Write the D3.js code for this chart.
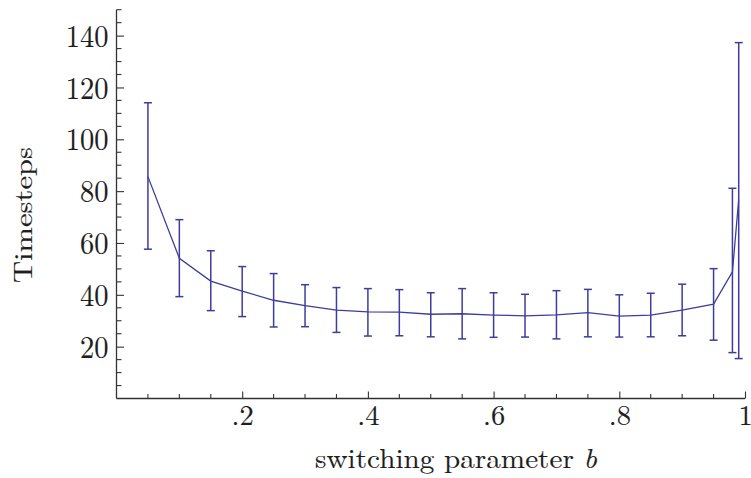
<!DOCTYPE html>
<html>
<head>
<meta charset="utf-8">
<script src="https://cdn.jsdelivr.net/npm/d3@7"></script>
<style>
  html, body { margin: 0; padding: 0; background: #fff; }
  svg { display: block; }
</style>
</head>
<body>
<svg id="chart" width="751" height="478"></svg>
<script>
// Switching parameter b and the mean number of timesteps, with error-bar bounds
const switchingB = [0.05, 0.10, 0.15, 0.20, 0.25, 0.30, 0.35, 0.40, 0.45, 0.50, 0.55,
                    0.60, 0.65, 0.70, 0.75, 0.80, 0.85, 0.90, 0.95, 0.98, 0.99];
const meanSteps  = [85.6, 54.1, 45.3, 41.4, 37.9, 35.8, 34.1, 33.4, 33.3, 32.5, 32.7,
                    32.2, 31.9, 32.3, 33.1, 31.8, 32.2, 34.1, 36.4, 48.9, 76.8];
const upperSteps = [114.1, 69.0, 57.0, 50.9, 48.2, 43.9, 42.8, 42.4, 42.0, 40.8, 42.4,
                    40.8, 40.2, 41.6, 42.1, 40.0, 40.6, 44.1, 50.1, 81.1, 137.3];
const lowerSteps = [57.6, 39.3, 33.9, 31.6, 27.6, 27.7, 25.5, 24.1, 24.2, 23.8, 23.0,
                    23.6, 23.7, 23.0, 23.8, 23.7, 23.8, 24.2, 22.5, 17.7, 15.4];

const xMajorTicks = [0.2, 0.4, 0.6, 0.8, 1.0];
const xTickLabels = [".2", ".4", ".6", ".8", "1"];
const yMajorTicks = [20, 40, 60, 80, 100, 120, 140];
const yTickLabels = ["20", "40", "60", "80", "100", "120", "140"];

(function draw() {
  const svg = d3.select("#chart");
  const serif = '"Latin Modern Roman"';
  const textColor = "#1e1e1e";
  const plotLeft = 116.5, plotRight = 745, plotBottom = 398.5, plotTop = 9.7;
  const x = d3.scaleLinear().domain([0, 1]).range([plotLeft, plotRight]);
  const y = d3.scaleLinear().domain([0, 150]).range([plotBottom, plotTop]);

  const axisColor = "#333";
  const seriesColor = "#3d3d9c";

  // Slightly heavier glyphs than the bare font weight
  const inkText = sel => sel.attr("fill", textColor).attr("stroke", textColor)
    .attr("stroke-width", 0.12);

  // Minor ticks every 0.05 on x and every 5 on y
  const xMinor = d3.range(1, 21).map(i => i / 20)
    .filter(v => !xMajorTicks.some(m => Math.abs(m - v) < 1e-9));
  const yMinor = d3.range(1, 31).map(i => i * 5).filter(v => !yMajorTicks.includes(v));

  const xAxis = d3.axisBottom(x).tickValues(xMajorTicks).tickSize(-7)
    .tickFormat((d, i) => xTickLabels[i]).tickPadding(0);
  const gx = svg.append("g").attr("transform", `translate(0,${plotBottom})`).call(xAxis);
  gx.attr("font-family", null).attr("font-size", null);
  gx.select(".domain").attr("d", `M${plotLeft},0H${plotRight}`)
    .attr("stroke", axisColor).attr("stroke-width", 1.3);
  gx.selectAll(".tick line").attr("stroke", axisColor).attr("stroke-width", 1.1);
  gx.selectAll(".tick text").attr("y", 26.5).attr("dy", null)
    .style("font-family", serif).style("font-size", "28.5px").call(inkText);
  gx.selectAll(".minor").data(xMinor).enter().append("line").attr("class", "minor")
    .attr("x1", d => x(d)).attr("x2", d => x(d)).attr("y1", 0).attr("y2", -4.5)
    .attr("stroke", axisColor).attr("stroke-width", 1.1);

  const yAxis = d3.axisLeft(y).tickValues(yMajorTicks).tickSize(-7.5)
    .tickFormat((d, i) => yTickLabels[i]).tickPadding(8);
  const gy = svg.append("g").attr("transform", `translate(${plotLeft},0)`).call(yAxis);
  gy.attr("font-family", null).attr("font-size", null);
  gy.select(".domain").attr("d", `M0,${plotBottom}V${plotTop}`)
    .attr("stroke", axisColor).attr("stroke-width", 1.3);
  gy.selectAll(".tick line").attr("stroke", axisColor).attr("stroke-width", 1.1);
  gy.selectAll(".tick text").attr("dy", "0.34em").attr("transform", "scale(1,1.1)")
    .style("font-family", serif).style("font-size", "28.5px").call(inkText);
  gy.selectAll(".minor").data(yMinor).enter().append("line").attr("class", "minor")
    .attr("y1", d => y(d)).attr("y2", d => y(d)).attr("x1", 0).attr("x2", 5)
    .attr("stroke", axisColor).attr("stroke-width", 1.1);

  // Mean line
  const pts = switchingB.map((b, i) => [b, meanSteps[i]]);
  svg.append("path")
    .attr("d", d3.line().x(d => x(d[0])).y(d => y(d[1]))(pts))
    .attr("fill", "none").attr("stroke", seriesColor).attr("stroke-width", 1.3);

  // Error bars with caps
  const capHalf = 4;
  const bars = svg.append("g").attr("stroke", seriesColor).attr("stroke-width", 1.5).attr("fill", "none");
  switchingB.forEach((b, i) => {
    const cx = x(b), y0 = y(lowerSteps[i]), y1 = y(upperSteps[i]);
    bars.append("line").attr("x1", cx).attr("x2", cx).attr("y1", y0).attr("y2", y1);
    bars.append("line").attr("x1", cx - capHalf).attr("x2", cx + capHalf).attr("y1", y0).attr("y2", y0);
    bars.append("line").attr("x1", cx - capHalf).attr("x2", cx + capHalf).attr("y1", y1).attr("y2", y1);
  });

  // Axis titles
  const xTitle = svg.append("text").attr("x", 456).attr("y", 468).attr("text-anchor", "middle")
    .style("font-family", serif).style("font-size", "28px").call(inkText)
    .attr("textLength", 282).attr("lengthAdjust", "spacingAndGlyphs");
  xTitle.append("tspan").text("switching parameter ");
  xTitle.append("tspan").style("font-style", "italic").text("b");

  svg.append("text").attr("transform", "translate(31.5,215) rotate(-90)")
    .style("font-family", serif).style("font-size", "26px").call(inkText)
    .attr("text-anchor", "middle")
    .attr("textLength", 136).attr("lengthAdjust", "spacingAndGlyphs")
    .text("Timesteps");
})();
</script>
</body>
</html>
